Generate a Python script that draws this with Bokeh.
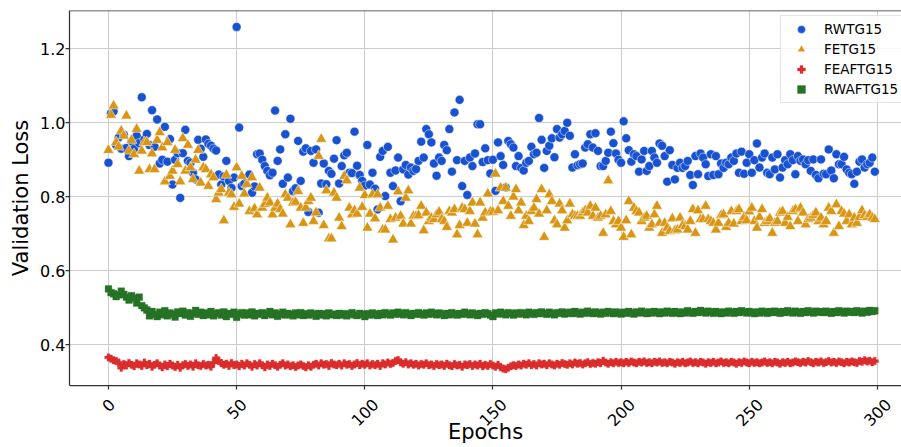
import math
from bokeh.plotting import figure
from bokeh.models import Range1d, FixedTicker, NumeralTickFormatter, Span
from bokeh.embed import file_html
from bokeh.resources import INLINE

epochs = list(range(300))

rwtg15 = [
    0.892, 1.025, 1.031, 0.940, 0.960, 0.930, 0.968, 0.932, 0.910, 0.950,
    0.930, 0.965, 0.945, 1.069, 0.955, 0.970, 0.940, 1.034, 0.935, 1.009,
    0.890, 0.900, 0.989, 0.895, 0.956, 0.833, 0.900, 0.918, 0.797, 0.918,
    0.981, 0.897, 0.892, 0.865, 0.847, 0.954, 0.930, 0.908, 0.955, 0.943,
    0.938, 0.930, 0.925, 0.860, 0.833, 0.855, 0.897, 0.843, 0.824, 0.852,
    1.259, 0.987, 0.829, 0.835, 0.852, 0.860, 0.811, 0.828, 0.915, 0.917,
    0.900, 0.883, 0.870, 0.858, 0.865, 1.033, 0.897, 0.928, 0.835, 0.969,
    0.852, 1.011, 0.815, 0.823, 0.951, 0.843, 0.922, 0.931, 0.759, 0.924,
    0.892, 0.928, 0.757, 0.836, 0.890, 0.834, 0.870, 0.862, 0.903, 0.953,
    0.836, 0.883, 0.912, 0.919, 0.865, 0.864, 0.976, 0.884, 0.859, 0.843,
    0.830, 0.940, 0.833, 0.865, 0.822, 0.766, 0.908, 0.924, 0.802, 0.935,
    0.865, 0.829, 0.871, 0.906, 0.788, 0.874, 0.886, 0.860, 0.879, 0.870,
    0.875, 0.897, 0.949, 0.906, 0.983, 0.969, 0.947, 0.890, 0.857, 0.906,
    0.897, 0.940, 0.926, 0.983, 0.868, 1.028, 0.899, 1.062, 0.829, 0.897,
    0.805, 0.906, 0.883, 0.917, 0.996, 0.996, 0.894, 0.931, 0.899, 0.863,
    0.900, 0.816, 0.947, 0.910, 0.886, 0.825, 0.951, 0.942, 0.933, 0.883,
    0.910, 0.878, 0.871, 0.892, 0.897, 0.935, 0.915, 0.919, 1.013, 0.954,
    0.878, 0.924, 0.938, 0.958, 0.907, 0.983, 0.960, 0.969, 0.978, 1.000,
    0.965, 0.879, 0.915, 0.885, 0.888, 0.890, 0.933, 0.942, 0.969, 0.933,
    0.972, 0.924, 0.883, 0.883, 0.897, 0.919, 0.976, 0.945, 0.917, 0.900,
    0.892, 1.004, 0.958, 0.926, 0.895, 0.915, 0.910, 0.868, 0.901, 0.924,
    0.870, 0.883, 0.924, 0.906, 0.892, 0.944, 0.938, 0.910, 0.841, 0.926,
    0.886, 0.847, 0.878, 0.892, 0.878, 0.883, 0.897, 0.859, 0.832, 0.910,
    0.861, 0.917, 0.906, 0.888, 0.856, 0.915, 0.859, 0.910, 0.861, 0.890,
    0.878, 0.892, 0.888, 0.906, 0.897, 0.917, 0.865, 0.922, 0.862, 0.892,
    0.915, 0.865, 0.899, 0.944, 0.879, 0.906, 0.917, 0.865, 0.861, 0.906,
    0.874, 0.915, 0.852, 0.879, 0.899, 0.888, 0.915, 0.899, 0.861, 0.910,
    0.897, 0.901, 0.888, 0.899, 0.870, 0.901, 0.859, 0.850, 0.901, 0.862,
    0.861, 0.928, 0.871, 0.850, 0.915, 0.888, 0.888, 0.908, 0.874, 0.865,
    0.861, 0.835, 0.868, 0.895, 0.901, 0.879, 0.888, 0.892, 0.906, 0.868,
]

fetg15 = [
    0.926, 1.021, 1.046, 0.947, 0.935, 0.978, 0.965, 1.019, 0.924, 0.953,
    0.915, 0.983, 0.870, 0.924, 0.947, 0.947, 0.874, 0.917, 0.874, 0.953,
    0.974, 0.933, 0.841, 0.947, 0.856, 0.870, 0.926, 0.888, 0.841, 0.958,
    0.870, 0.940, 0.879, 0.847, 0.900, 0.926, 0.838, 0.879, 0.874, 0.829,
    0.860, 0.852, 0.793, 0.811, 0.820, 0.736, 0.859, 0.811, 0.806, 0.772,
    0.879, 0.781, 0.856, 0.808, 0.834, 0.761, 0.852, 0.768, 0.752, 0.824,
    0.770, 0.780, 0.797, 0.784, 0.752, 0.770, 0.781, 0.766, 0.754, 0.806,
    0.797, 0.725, 0.784, 0.786, 0.815, 0.770, 0.729, 0.770, 0.788, 0.797,
    0.734, 0.757, 0.910, 0.956, 0.723, 0.817, 0.687, 0.687, 0.811, 0.797,
    0.743, 0.720, 0.856, 0.844, 0.770, 0.752, 0.763, 0.754, 0.824, 0.772,
    0.804, 0.716, 0.754, 0.806, 0.741, 0.806, 0.770, 0.711, 0.711, 0.775,
    0.739, 0.684, 0.743, 0.814, 0.748, 0.727, 0.797, 0.817, 0.727, 0.748,
    0.748, 0.750, 0.775, 0.709, 0.757, 0.734, 0.743, 0.739, 0.752, 0.759,
    0.739, 0.734, 0.718, 0.761, 0.757, 0.766, 0.698, 0.723, 0.770, 0.766,
    0.729, 0.761, 0.784, 0.727, 0.698, 0.784, 0.743, 0.757, 0.808, 0.759,
    0.759, 0.862, 0.763, 0.824, 0.788, 0.824, 0.775, 0.748, 0.800, 0.820,
    0.763, 0.784, 0.723, 0.748, 0.734, 0.761, 0.770, 0.793, 0.754, 0.820,
    0.691, 0.763, 0.806, 0.788, 0.736, 0.725, 0.781, 0.763, 0.716, 0.736,
    0.781, 0.752, 0.748, 0.748, 0.748, 0.757, 0.763, 0.757, 0.775, 0.748,
    0.770, 0.743, 0.748, 0.702, 0.752, 0.844, 0.761, 0.734, 0.725, 0.734,
    0.716, 0.691, 0.736, 0.788, 0.698, 0.770, 0.761, 0.757, 0.734, 0.743,
    0.748, 0.716, 0.725, 0.752, 0.775, 0.729, 0.702, 0.729, 0.716, 0.707,
    0.741, 0.709, 0.711, 0.743, 0.723, 0.720, 0.711, 0.734, 0.766, 0.702,
    0.763, 0.739, 0.739, 0.775, 0.739, 0.734, 0.729, 0.711, 0.729, 0.750,
    0.752, 0.718, 0.729, 0.761, 0.727, 0.761, 0.766, 0.734, 0.745, 0.736,
    0.760, 0.770, 0.734, 0.716, 0.745, 0.766, 0.729, 0.734, 0.741, 0.702,
    0.729, 0.734, 0.757, 0.761, 0.729, 0.745, 0.720, 0.761, 0.766, 0.734,
    0.770, 0.757, 0.725, 0.739, 0.743, 0.750, 0.757, 0.734, 0.743, 0.725,
    0.734, 0.770, 0.761, 0.702, 0.779, 0.720, 0.761, 0.754, 0.734, 0.752,
    0.725, 0.743, 0.729, 0.745, 0.763, 0.750, 0.745, 0.752, 0.743, 0.739,
]

feaftg15 = [
    0.366, 0.362, 0.358, 0.356, 0.352, 0.338, 0.348, 0.344, 0.351, 0.346,
    0.342, 0.350, 0.347, 0.343, 0.352, 0.345, 0.349, 0.341, 0.346, 0.350,
    0.344, 0.339, 0.347, 0.342, 0.349, 0.344, 0.340, 0.346, 0.338, 0.345,
    0.348, 0.343, 0.347, 0.341, 0.350, 0.345, 0.343, 0.348, 0.344, 0.346,
    0.341, 0.352, 0.364, 0.357, 0.350, 0.346, 0.349, 0.343, 0.351, 0.345,
    0.347, 0.342, 0.349, 0.344, 0.350, 0.346, 0.341, 0.348, 0.344, 0.350,
    0.345, 0.339, 0.347, 0.343, 0.349, 0.345, 0.341, 0.346, 0.350, 0.344,
    0.347, 0.342, 0.345, 0.340, 0.344, 0.347, 0.343, 0.339, 0.345, 0.341,
    0.346, 0.349, 0.344, 0.350, 0.346, 0.348, 0.343, 0.351, 0.347, 0.345,
    0.349, 0.344, 0.350, 0.346, 0.348, 0.343, 0.347, 0.351, 0.345, 0.349,
    0.346, 0.350, 0.344, 0.348, 0.345, 0.349, 0.343, 0.350, 0.347, 0.352,
    0.348, 0.351, 0.356, 0.359, 0.352, 0.349, 0.353, 0.347, 0.350, 0.346,
    0.349, 0.344, 0.348, 0.346, 0.350, 0.345, 0.347, 0.343, 0.348, 0.345,
    0.347, 0.343, 0.349, 0.345, 0.342, 0.348, 0.344, 0.346, 0.341, 0.347,
    0.345, 0.348, 0.343, 0.347, 0.344, 0.349, 0.342, 0.346, 0.343, 0.348,
    0.344, 0.341, 0.346, 0.339, 0.336, 0.334, 0.338, 0.342, 0.345, 0.343,
    0.347, 0.344, 0.349, 0.346, 0.350, 0.345, 0.348, 0.344, 0.350, 0.347,
    0.349, 0.345, 0.350, 0.347, 0.344, 0.349, 0.346, 0.351, 0.348, 0.346,
    0.350, 0.347, 0.352, 0.349, 0.351, 0.347, 0.350, 0.353, 0.348, 0.351,
    0.349, 0.353, 0.350, 0.357, 0.352, 0.349, 0.353, 0.350, 0.354, 0.351,
    0.353, 0.350, 0.354, 0.351, 0.355, 0.352, 0.350, 0.354, 0.352, 0.355,
    0.351, 0.353, 0.350, 0.354, 0.352, 0.355, 0.351, 0.353, 0.350, 0.354,
    0.352, 0.349, 0.353, 0.351, 0.354, 0.350, 0.352, 0.355, 0.351, 0.353,
    0.350, 0.354, 0.352, 0.349, 0.353, 0.351, 0.354, 0.350, 0.352, 0.355,
    0.351, 0.353, 0.350, 0.354, 0.352, 0.349, 0.353, 0.351, 0.355, 0.352,
    0.350, 0.354, 0.351, 0.353, 0.350, 0.352, 0.355, 0.351, 0.353, 0.350,
    0.354, 0.352, 0.349, 0.353, 0.351, 0.354, 0.350, 0.352, 0.355, 0.353,
    0.351, 0.354, 0.352, 0.356, 0.353, 0.350, 0.354, 0.352, 0.355, 0.351,
    0.353, 0.356, 0.352, 0.354, 0.351, 0.355, 0.353, 0.350, 0.354, 0.352,
    0.355, 0.353, 0.351, 0.356, 0.354, 0.358, 0.355, 0.357, 0.353, 0.356,
]

rwaftg15 = [
    0.551, 0.541, 0.538, 0.530, 0.535, 0.545, 0.536, 0.529, 0.521, 0.533,
    0.526, 0.513, 0.529, 0.506, 0.500, 0.494, 0.478, 0.490, 0.482, 0.476,
    0.488, 0.481, 0.492, 0.478, 0.486, 0.483, 0.475, 0.489, 0.484, 0.491,
    0.480, 0.487, 0.477, 0.485, 0.493, 0.482, 0.488, 0.479, 0.486, 0.481,
    0.490, 0.478, 0.484, 0.487, 0.480, 0.489, 0.476, 0.485, 0.482, 0.488,
    0.474, 0.483, 0.487, 0.480, 0.486, 0.481, 0.489, 0.478, 0.485, 0.482,
    0.487, 0.479, 0.484, 0.490, 0.481, 0.486, 0.477, 0.483, 0.488, 0.480,
    0.485, 0.482, 0.478, 0.486, 0.481, 0.487, 0.479, 0.484, 0.480, 0.486,
    0.482, 0.477, 0.485, 0.480, 0.484, 0.478, 0.486, 0.481, 0.483, 0.479,
    0.485, 0.480, 0.484, 0.478, 0.483, 0.487, 0.481, 0.479, 0.485, 0.482,
    0.476, 0.484, 0.480, 0.486, 0.482, 0.479, 0.485, 0.481, 0.487, 0.483,
    0.480, 0.486, 0.482, 0.488, 0.484, 0.481, 0.487, 0.483, 0.479, 0.485,
    0.482, 0.487, 0.483, 0.480, 0.486, 0.482, 0.488, 0.484, 0.481, 0.486,
    0.483, 0.479, 0.485, 0.481, 0.487, 0.483, 0.480, 0.485, 0.482, 0.488,
    0.484, 0.481, 0.486, 0.483, 0.479, 0.485, 0.482, 0.487, 0.484, 0.480,
    0.476, 0.486, 0.483, 0.488, 0.484, 0.481, 0.487, 0.484, 0.480, 0.486,
    0.483, 0.487, 0.484, 0.481, 0.488, 0.485, 0.482, 0.487, 0.484, 0.489,
    0.485, 0.482, 0.488, 0.484, 0.481, 0.487, 0.485, 0.489, 0.483, 0.486,
    0.488, 0.484, 0.490, 0.486, 0.483, 0.488, 0.485, 0.491, 0.487, 0.484,
    0.489, 0.486, 0.483, 0.488, 0.485, 0.490, 0.487, 0.484, 0.489, 0.486,
    0.483, 0.488, 0.485, 0.490, 0.486, 0.483, 0.489, 0.486, 0.491, 0.487,
    0.484, 0.489, 0.486, 0.490, 0.487, 0.484, 0.489, 0.486, 0.491, 0.488,
    0.485, 0.490, 0.487, 0.484, 0.489, 0.486, 0.492, 0.488, 0.485, 0.490,
    0.487, 0.493, 0.489, 0.486, 0.491, 0.488, 0.485, 0.490, 0.487, 0.484,
    0.489, 0.486, 0.491, 0.488, 0.485, 0.490, 0.487, 0.492, 0.489, 0.486,
    0.490, 0.487, 0.484, 0.489, 0.486, 0.491, 0.488, 0.485, 0.490, 0.487,
    0.491, 0.488, 0.485, 0.490, 0.487, 0.492, 0.489, 0.486, 0.491, 0.488,
    0.485, 0.490, 0.487, 0.492, 0.489, 0.486, 0.491, 0.488, 0.490, 0.487,
    0.491, 0.488, 0.485, 0.490, 0.487, 0.492, 0.489, 0.486, 0.491, 0.488,
    0.490, 0.487, 0.492, 0.489, 0.486, 0.491, 0.488, 0.493, 0.490, 0.492,
]

series_names = ["RWTG15", "FETG15", "FEAFTG15", "RWAFTG15"]
x_ticks = [0, 50, 100, 150, 200, 250, 300]
x_tick_labels = ["0", "50", "100", "150", "200", "250", "300"]
y_ticks = [0.4, 0.6, 0.8, 1.0, 1.2]

for s in (rwtg15, fetg15, feaftg15, rwaftg15):
    assert len(s) == len(epochs), len(s)

FONT = "DejaVu Sans"
BLUE, ORANGE, RED, GREEN = "#1852d1", "#d99614", "#dc2d2d", "#267326"
SPINE = "#333333"
W, H = 901, 447
LEFT, RIGHT, TOP, BOTTOM = 69, 0, 10, 62
xlim = (-15.2, 309.4)
ylim = (0.290, 1.3035)

p = figure(width=W, height=H, x_range=Range1d(*xlim), y_range=Range1d(*ylim),
           output_backend="svg", toolbar_location=None,
           min_border_left=LEFT, min_border_right=RIGHT, min_border_top=TOP,
           min_border_bottom=BOTTOM)
p.outline_line_color = None
p.background_fill_color = "white"
p.border_fill_color = "white"

p.scatter(epochs, rwtg15, marker="circle", size=9, fill_color=BLUE, line_color="white",
          line_width=0.5, legend_label=series_names[0])
p.scatter(epochs, fetg15, marker="triangle", size=11, fill_color=ORANGE, line_color="white",
          line_width=0.5, legend_label=series_names[1])
p.scatter(epochs, feaftg15, marker="plus", size=7.5, fill_color=RED, line_color=RED,
          line_width=0.3, legend_label=series_names[2])
p.scatter(epochs, rwaftg15, marker="square", size=6.8, fill_color=GREEN, line_color=GREEN,
          line_width=0.3, legend_label=series_names[3])

for ax in (p.xaxis[0], p.yaxis[0]):
    ax.axis_line_color = SPINE
    ax.axis_line_width = 1.25
    ax.major_tick_line_color = SPINE
    ax.major_tick_line_width = 1.25
    ax.minor_tick_line_color = SPINE
    ax.minor_tick_line_width = 1.25
    ax.major_tick_in = 0
    ax.minor_tick_in = 0
    ax.major_label_text_font = FONT
    ax.major_label_text_font_size = "16px"
    ax.major_label_text_color = "black"
    ax.axis_label_text_font = FONT
    ax.axis_label_text_font_size = "21px"
    ax.axis_label_text_font_style = "normal"
    ax.axis_label_text_color = "black"

# x axis: rotated labels are right-anchored by Bokeh; place each label's anchor
# to the right of its tick so that the rotated text is centred under the tick.
px_per_unit = (W - LEFT - RIGHT) / (xlim[1] - xlim[0])
rot = math.cos(math.pi / 4)
label_pos = [t + len(s) * 0.636 * 16 * rot / 2 / px_per_unit for t, s in zip(x_ticks, x_tick_labels)]
p.xaxis.ticker = FixedTicker(ticks=label_pos, minor_ticks=x_ticks)
p.xaxis.major_label_overrides = {pos: s for pos, s in zip(label_pos, x_tick_labels)}
p.xaxis.major_tick_out = 0
p.xaxis.minor_tick_out = 4
p.xaxis.major_label_orientation = math.pi / 4
p.xaxis.major_label_standoff = 12
p.xaxis.axis_label = "Epochs"
p.xaxis.axis_label_standoff = -15
p.xgrid.ticker = FixedTicker(ticks=x_ticks)

p.yaxis.ticker = FixedTicker(ticks=y_ticks)
p.yaxis.formatter = NumeralTickFormatter(format="0.0")
p.yaxis.major_tick_out = 4
p.yaxis.minor_tick_out = 0
p.yaxis.axis_label = "Validation Loss"
p.yaxis.axis_label_standoff = 4
p.yaxis.major_label_standoff = 0

p.xgrid.grid_line_color = "#cccccc"
p.ygrid.grid_line_color = "#cccccc"
p.xgrid.grid_line_width = 1
p.ygrid.grid_line_width = 1

p.add_layout(Span(location=ylim[1], dimension="width", line_color=SPINE, line_width=1.25))

lg = p.legend[0]
lg.location = (711, 282)
lg.label_text_font = FONT
lg.label_text_font_size = "13.5px"
lg.label_text_color = "black"
lg.glyph_width = 34
lg.glyph_height = 20
lg.label_height = 20
lg.label_standoff = 6
lg.padding = 3
lg.spacing = 0
lg.margin = 0
lg.border_line_color = "#cccccc"
lg.border_line_width = 1
lg.background_fill_alpha = 0.8

open("out.html", "w").write(file_html(p, INLINE))
